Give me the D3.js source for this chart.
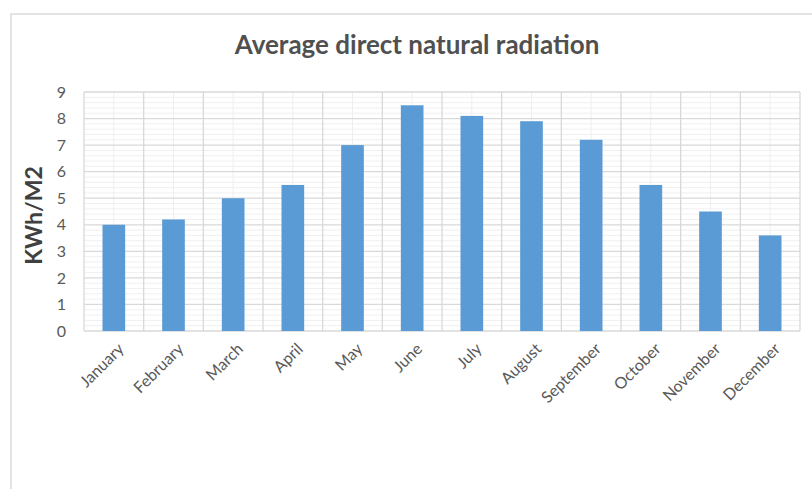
<!doctype html>
<html lang="en">
<head>
<meta charset="UTF-8" />
<title>Average direct natural radiation</title>
<script src="https://d3js.org/d3.v7.min.js"></script>
<style>
  html,body{margin:0;padding:0;background:#fff;}
  svg{display:block;font-family:Lato,"Open Sans",sans-serif;}
</style>
</head>
<body>
<div id="chart"></div>
<script>
  /* data */
  const months = ['January','February','March','April','May','June',
                  'July','August','September','October','November','December'];
  const radiation = [4.0, 4.2, 5.0, 5.5, 7.0, 8.5, 8.1, 7.9, 7.2, 5.5, 4.5, 3.6];
  const yTicks = [0,1,2,3,4,5,6,7,8,9];

  const W = 812, H = 489;
  const plot = {left:84, right:800, top:92, bottom:331};

  const svg = d3.select('#chart').append('svg')
    .attr('width', W).attr('height', H);

  // chart frame (extends past the window, as in the reference)
  svg.append('rect')
    .attr('x', 11).attr('y', 14).attr('width', 840).attr('height', 520)
    .attr('fill', '#fff').attr('stroke', '#e3e3e3').attr('stroke-width', 2);

  const x = d3.scaleBand().domain(months).range([plot.left, plot.right]);
  const y = d3.scaleLinear().domain([0, 9]).range([plot.bottom, plot.top]);

  const grid = svg.append('g');

  // minor horizontal lines every 0.2
  grid.selectAll('line.hminor')
    .data(d3.range(0, 45).map(i => i * 0.2).filter(v => Math.abs(v - Math.round(v)) > 1e-6))
    .join('line')
    .attr('x1', plot.left).attr('x2', plot.right)
    .attr('y1', d => y(d)).attr('y2', d => y(d))
    .attr('stroke', '#f0f0f0').attr('stroke-width', 1);

  // minor vertical lines at category centres
  grid.selectAll('line.vminor')
    .data(months).join('line')
    .attr('x1', d => x(d) + x.bandwidth()/2).attr('x2', d => x(d) + x.bandwidth()/2)
    .attr('y1', plot.top).attr('y2', plot.bottom)
    .attr('stroke', '#eeeeee').attr('stroke-width', 1);

  // major horizontal lines
  grid.selectAll('line.hmajor')
    .data(yTicks).join('line')
    .attr('x1', plot.left).attr('x2', plot.right)
    .attr('y1', d => y(d)).attr('y2', d => y(d))
    .attr('stroke', '#d9d9d9').attr('stroke-width', 1.3);

  // major vertical lines at category boundaries
  grid.selectAll('line.vmajor')
    .data(months.map(m => x(m)).concat([plot.right])).join('line')
    .attr('x1', d => d).attr('x2', d => d)
    .attr('y1', plot.top).attr('y2', plot.bottom)
    .attr('stroke', '#d9d9d9').attr('stroke-width', 1.3);

  // bars
  const barW = x.bandwidth() * 0.38;
  svg.append('g').selectAll('rect')
    .data(months.map((m, i) => ({m, v: radiation[i]})))
    .join('rect')
    .attr('x', d => x(d.m) + (x.bandwidth() - barW)/2)
    .attr('y', d => y(d.v))
    .attr('width', barW)
    .attr('height', d => y(0) - y(d.v))
    .attr('fill', '#5b9bd5');

  // y axis labels
  const yAxis = svg.append('g')
    .attr('transform', `translate(${plot.left - 18},0)`)
    .call(d3.axisLeft(y).tickValues(yTicks).tickSize(0).tickPadding(0));
  yAxis.select('.domain').remove();
  yAxis.selectAll('text')
    .attr('fill', '#595959').style('font-size', '16px')
    .style('font-family', 'Lato,"Open Sans",sans-serif');

  // x axis labels
  const xAxis = svg.append('g')
    .attr('transform', `translate(0,${plot.bottom})`)
    .call(d3.axisBottom(x).tickSize(0).tickPadding(0));
  xAxis.select('.domain').remove();
  xAxis.selectAll('text')
    .attr('fill', '#595959').style('font-size', '16px')
    .style('font-family', 'Lato,"Open Sans",sans-serif')
    .attr('text-anchor', 'end')
    .attr('dy', 0).attr('y', 0)
    .attr('transform', 'translate(11,19) rotate(-45)');

  // y title
  svg.append('text')
    .attr('transform', `translate(42,${(plot.top + plot.bottom)/2 + 4}) rotate(-90)`)
    .attr('text-anchor', 'middle')
    .attr('fill', '#404040')
    .style('font-size', '23px').style('font-weight', 'bold')
    .text('KWh/M2');

  // chart title
  svg.append('text')
    .attr('x', 417).attr('y', 54)
    .attr('text-anchor', 'middle')
    .attr('fill', '#505050')
    .style('font-size', '26px').style('font-weight', 'bold')
    .text('Average direct natural radiation');
</script>
</body>
</html>
